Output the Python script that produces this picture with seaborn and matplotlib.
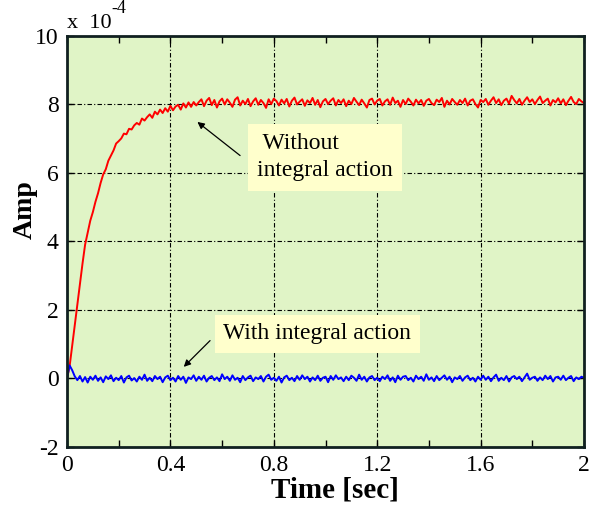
import numpy as np
import pandas as pd
import matplotlib
matplotlib.use("Agg")
import matplotlib.pyplot as plt
import seaborn as sns

# Time axis (sec), sampled every 0.01 s
time = np.round(np.arange(201) * 0.01, 2)

# Response without integral action (x 1e-4)
amp_without = [
    0.00, 0.35, 0.95, 1.55, 2.15, 2.75, 3.35, 3.90, 4.25, 4.60,
    4.85, 5.15, 5.40, 5.70, 5.95, 6.10, 6.35, 6.50, 6.65, 6.85,
    6.92, 7.00, 7.14, 7.12, 7.28, 7.26, 7.38, 7.45, 7.40, 7.58,
    7.52, 7.62, 7.70, 7.60, 7.78, 7.70, 7.84, 7.74, 7.88, 7.78,
    7.95, 7.82, 7.93, 7.98, 7.84, 8.02, 7.90, 8.05, 7.92, 8.06,
    7.96,
    8.06, 8.14, 7.94, 8.10, 8.18, 7.97, 8.12, 7.90, 8.08, 8.16,
    7.99, 8.14, 8.04, 7.92, 8.13, 8.20, 7.96, 8.10, 8.00, 8.15,
    7.94, 8.08, 8.17, 7.98, 8.12, 8.03, 7.89, 8.14, 8.00, 8.16,
    8.09, 7.96, 8.13, 8.02, 8.15, 7.93, 8.10, 8.19, 7.99, 8.07,
    8.14, 7.95, 8.11, 8.03, 8.18, 7.98, 8.12, 7.91, 8.08, 8.15,
    8.00, 8.10, 8.17, 7.96, 8.12, 8.03, 8.14, 7.94, 8.10, 8.00,
    8.18, 8.07, 7.97, 8.13, 8.02, 7.90, 8.12, 8.16, 7.99, 8.10,
    8.15, 7.96, 8.08, 8.14, 7.98, 8.19, 8.03, 8.10, 7.92, 8.12,
    8.00, 8.16, 8.07, 7.96, 8.13, 8.02, 8.12, 7.95, 8.10, 8.15,
    8.03, 7.97, 8.13, 8.06, 8.18, 7.92, 8.10, 7.99, 8.15, 8.06,
    7.98, 8.12, 8.03, 8.16, 7.96, 8.10, 8.14, 8.00, 7.90, 8.12,
    8.06, 8.15, 7.98, 8.10, 8.20, 8.03, 8.14, 7.97, 8.10, 8.16,
    8.01, 8.24, 8.12, 8.02, 8.15, 7.98, 8.10, 8.20, 8.06, 8.14,
    8.00, 8.12, 8.22, 8.03, 8.10, 8.16, 7.96, 8.12, 8.05, 8.17,
    8.02, 8.14, 7.97, 8.10, 8.21, 8.06, 8.00, 8.15, 8.08, 8.03,
]

# Response with integral action (x 1e-4)
amp_with = [
    0.00, 0.38, 0.24, 0.06, -0.05, 0.07, -0.09, 0.04, -0.12, 0.05, -0.04,
    0.08, -0.07, 0.03, -0.11, 0.06, -0.02, 0.09, -0.08, 0.02, -0.05,
    0.07, -0.12, 0.03, 0.08, -0.06, 0.01, -0.09, 0.05, -0.04, 0.11,
    -0.07, 0.02, -0.08, 0.07, -0.02, 0.05, -0.11, 0.03, 0.08, -0.05,
    0.02, -0.09, 0.07, -0.04, 0.05, -0.13, 0.03, -0.02, 0.09, -0.07,
    0.05, -0.04, 0.08, -0.09, 0.02, 0.07, -0.05, 0.03, -0.08, 0.12,
    -0.02, 0.05, -0.07, 0.09, -0.04, 0.02, -0.11, 0.07, -0.05, 0.03,
    0.08, -0.08, 0.03, -0.02, 0.07, -0.09, 0.05, 0.11, -0.04, 0.02,
    -0.07, 0.05, -0.12, 0.03, 0.08, -0.05, 0.02, -0.08, 0.07, -0.04,
    0.09, -0.02, 0.05, -0.09, 0.03, -0.05, 0.08, -0.07, 0.02, 0.05,
    -0.11, 0.07, -0.04, 0.09, -0.02, 0.03, -0.08, 0.05, -0.05, 0.08,
    0.02, -0.07, 0.11, -0.04, 0.05, -0.09, 0.03, 0.07, -0.05, 0.02,
    -0.08, 0.05, -0.02, 0.09, -0.07, 0.03, -0.11, 0.08, -0.04, 0.05,
    0.07, -0.05, 0.02, -0.09, 0.08, -0.02, 0.05, -0.07, 0.12, -0.04,
    0.03, -0.08, 0.07, -0.05, 0.02, 0.09, -0.04, 0.05, -0.11, 0.03,
    -0.02, 0.07, -0.07, 0.03, 0.08, -0.05, 0.02, -0.09, 0.05, -0.04,
    0.08, -0.04, 0.05, -0.08, 0.03, 0.11, -0.07, 0.02, -0.05, 0.07,
    -0.09, 0.03, 0.07, -0.02, 0.05, -0.08, 0.03, 0.14, -0.04, 0.02,
    0.05, -0.07, 0.03, -0.05, 0.08, -0.02, 0.07, -0.09, 0.03, 0.05,
    -0.04, 0.08, -0.05, 0.02, 0.07, -0.08, 0.03, -0.02, 0.05, 0.02,
]

x_ticks = [0, 0.4, 0.8, 1.2, 1.6, 2]
x_tick_labels = ["0", "0.4", "0.8", "1.2", "1.6", "2"]
y_ticks = [-2, 0, 2, 4, 6, 8, 10]

df = pd.DataFrame({"Time": time, "without": amp_without, "with": amp_with})

sns.set_style("ticks")
plt.rcParams["font.family"] = ["Liberation Serif", "DejaVu Serif"]
plt.rcParams["axes.unicode_minus"] = False
plt.rcParams["text.color"] = "black"
plt.rcParams["axes.labelcolor"] = "black"
plt.rcParams["xtick.color"] = "black"
plt.rcParams["ytick.color"] = "black"

fig = plt.figure(figsize=(6.02, 5.09), dpi=100)
ax = fig.add_axes([0.1113, 0.1218, 0.8588, 0.8084])
ax.set_facecolor("#e0f4c6")

sns.lineplot(data=df, x="Time", y="without", color="#ff0000", lw=1.4, ax=ax)
sns.lineplot(data=df, x="Time", y="with", color="#0000ff", lw=1.4, ax=ax)

ax.set_xlim(0, 2)
ax.set_ylim(-2, 10)
ax.set_xticks(x_ticks)
ax.set_xticklabels(x_tick_labels)
ax.set_yticks(y_ticks)
ax.set_xticks([0.2, 0.6, 1.0, 1.4, 1.8], minor=True)
ax.tick_params(which="both", direction="in", top=True, right=True,
               length=5, width=1, labelsize=17, pad=6, colors="black")
ax.grid(True, which="major", color="black", lw=0.8, linestyle=(0, (4, 2, 1, 2)))
for s in ax.spines.values():
    s.set_linewidth(2)
    s.set_color("#102020")

ax.set_xlabel("Time [sec]", fontsize=21, fontweight="bold", va="center")
ax.xaxis.set_label_coords(0.518, -0.104)
ax.set_ylabel("Amp", fontsize=20, fontweight="bold", va="center")
ax.yaxis.set_label_coords(-0.081, 0.576)

# exponent label
ax.text(0.0, 1.03, "x  10", transform=ax.transAxes, fontsize=16, va="center", ha="left")
ax.text(0.085, 1.065, "-4", transform=ax.transAxes, fontsize=13, va="center", ha="left")

box = dict(boxstyle="square,pad=0.4", fc="#ffffcc", ec="none")
ax.text(0.735, 6.45, " Without\nintegral action", fontsize=17, ha="left", va="center",
        linespacing=1.35, bbox=box, zorder=5)
ax.annotate("", xy=(0.496, 7.53), xytext=(0.678, 6.45),
            arrowprops=dict(arrowstyle="-|>", color="black", lw=0.9, mutation_scale=10))

box2 = dict(boxstyle="square,pad=0.35", fc="#ffffcc", ec="none")
ax.text(0.605, 1.3, "With integral action", fontsize=17, ha="left", va="center",
        bbox=box2, zorder=5)
ax.annotate("", xy=(0.444, 0.28), xytext=(0.561, 1.16),
            arrowprops=dict(arrowstyle="-|>", color="black", lw=0.9, mutation_scale=10))

fig.savefig("out.png", dpi=100)
